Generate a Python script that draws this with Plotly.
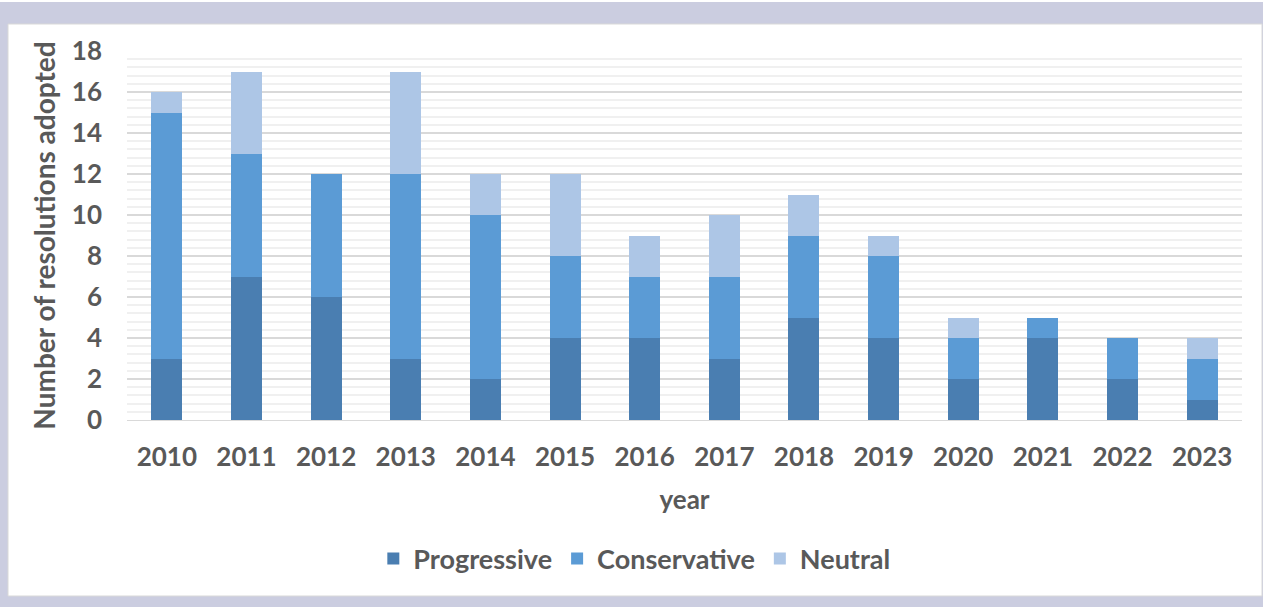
import plotly.graph_objects as go

years = ["2010", "2011", "2012", "2013", "2014", "2015", "2016",
         "2017", "2018", "2019", "2020", "2021", "2022", "2023"]
progressive = [3, 7, 6, 3, 2, 4, 4, 3, 5, 4, 2, 4, 2, 1]
conservative = [12, 6, 6, 9, 8, 4, 3, 4, 4, 4, 2, 1, 2, 2]
neutral = [1, 4, 0, 5, 2, 4, 2, 3, 2, 1, 1, 0, 0, 1]

colors = {"Progressive": "#4a7eb1", "Conservative": "#5b9bd5", "Neutral": "#adc6e6"}
FONT = "Lato"
TXT = "#595959"

fig = go.Figure()
for name, vals in [("Progressive", progressive), ("Conservative", conservative), ("Neutral", neutral)]:
    fig.add_trace(go.Bar(x=years, y=vals, name=name,
                         marker=dict(color=colors[name], line=dict(width=0))))

L, R, T, B = 127, 21, 51, 187
W, H = 1263, 607
pw, ph = W - L - R, H - T - B

def px_x(x):
    return (x - L) / pw

def px_y(y):
    return (H - B - y) / ph

shapes = [
    dict(type="rect", xref="paper", yref="paper", layer="below",
         x0=px_x(8), x1=px_x(1262), y0=px_y(596), y1=px_y(24),
         fillcolor="white", line=dict(color="#d9d9d9", width=1)),
    dict(type="rect", xref="paper", yref="paper", layer="below",
         x0=px_x(0), x1=px_x(1263), y0=px_y(2), y1=px_y(0),
         fillcolor="white", line=dict(width=0)),
]

fig.update_layout(
    barmode="stack",
    bargap=0.61,
    width=W, height=H,
    margin=dict(l=L, r=R, t=T, b=B),
    paper_bgcolor="#cbcde0",
    plot_bgcolor="rgba(0,0,0,0)",
    font=dict(family=FONT, color=TXT),
    shapes=shapes,
    showlegend=True,
    legend=dict(orientation="h", x=0.455, xanchor="center", y=-0.31, yanchor="top",
                bgcolor="rgba(0,0,0,0)",
                font=dict(family=FONT, size=27, color=TXT, weight="bold"),
                traceorder="normal"),
    xaxis=dict(
        tickfont=dict(family=FONT, size=26, color=TXT, weight="bold"),
        title=dict(text="year", font=dict(family=FONT, size=26, color=TXT, weight="bold"), standoff=19),
        showline=True, linecolor="#d9d9d9", ticks="", ticklabelstandoff=14,
    ),
    yaxis=dict(
        range=[0, 18], dtick=2, tick0=0,
        tickfont=dict(family=FONT, size=26, color=TXT, weight="bold"),
        title=dict(text="Number of resolutions adopted",
                   font=dict(family=FONT, size=28, color=TXT, weight="bold"), standoff=8),
        gridcolor="#d9d9d9", gridwidth=1.5, zeroline=False,
        minor=dict(dtick=0.4, tick0=0, showgrid=True, gridcolor="#f0f0f0", gridwidth=1.5),
        ticks="", ticklabelstandoff=24,
    ),
)

fig.write_html("out.html", config={"displayModeBar": False},
               post_script="document.body.style.margin='0';document.body.style.padding='0';")
